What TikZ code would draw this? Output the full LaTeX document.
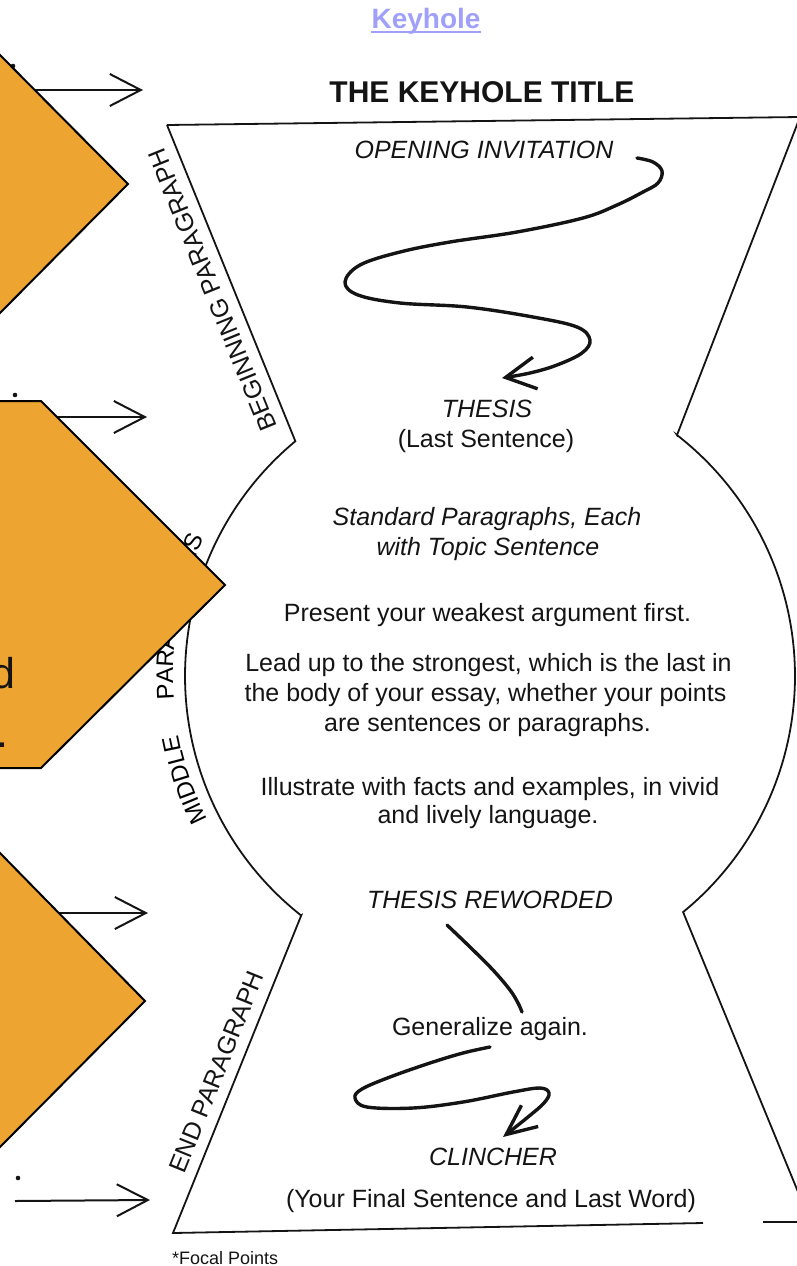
\documentclass[tikz,border=0pt]{standalone}
\usepackage{fontspec}
\setmainfont{Liberation Sans}
\usetikzlibrary{arrows.meta,decorations.text}
\definecolor{orangefill}{RGB}{238,164,48}
\definecolor{linkblue}{RGB}{160,160,250}
\definecolor{ink}{RGB}{20,20,20}
\begin{document}
\begin{tikzpicture}[x=1pt,y=-1pt,
  outline/.style={draw=ink, line width=1.8pt, line join=miter},
  body/.style={font=\fontsize{25}{30}\selectfont, inner sep=0pt, anchor=base, text=ink},
  ital/.style={body, font=\fontsize{25}{30}\selectfont\itshape},
  sidelabel/.style={font=\fontsize{25}{30}\selectfont, inner sep=0pt, anchor=base, text=ink},
  focalarrow/.style={draw=ink, line width=2pt, -{Straight Barb[length=31pt,width=32pt]}},
  swirl/.style={draw=ink, line width=3.4pt, line cap=round, line join=round},
  orangeshape/.style={fill=orangefill, draw=black, line width=2pt, line join=miter},
  bigtext/.style={font=\fontsize{43}{50}\selectfont, inner sep=0pt, anchor=base east, text=ink},
]
\useasboundingbox (0,0) rectangle (796,1266);

% header
\node[font=\fontsize{28}{32}\selectfont\bfseries, text=linkblue, inner sep=0pt, anchor=base] (link) at (426,28) {Keyhole};
\draw[linkblue, line width=2pt] ([yshift=-4pt]link.base west) -- ([yshift=-4pt]link.base east);
\node[font=\fontsize{30}{36}\selectfont\bfseries, text=ink, inner sep=0pt, anchor=base] (title) at (482,102) {THE KEYHOLE TITLE};

% keyhole outline
\draw[outline] (167,125) -- (800,117) -- (677,435.1)
  -- plot[domain=-52.19:50.72, samples=90] ({490+305*cos(\x)},{676+305*sin(\x)})
  -- (810.4,1222) -- (763,1222);
\draw[outline] (703,1223) -- (173,1233) -- (301.2,915.5)
  -- plot[domain=128.25:230.34, samples=90] ({490+305*cos(\x)},{676+305*sin(\x)})
  -- (167,125);

% side labels
\node[sidelabel, rotate=112.1] (begin) at (220.2,286.6) {BEGINNING PARAGRAPH};
\node[sidelabel, rotate=68] (endp) at (224.4,1075) {END PARAGRAPH};
\path[decorate, decoration={text along path, text={|\fontsize{24}{28}\selectfont|MIDDLE}, text align=left}]
  plot[domain=153:178, samples=50] ({490+317*cos(\x)},{676+317*sin(\x)});
\path[decorate, decoration={text along path, text={|\fontsize{24}{28}\selectfont|PARAGRAPHS}, text align=left}]
  plot[domain=175.7:214, samples=70] ({490+317*cos(\x)},{676+317*sin(\x)});

% inner texts
\node[ital] (open) at (484,158) {OPENING INVITATION};
\node[ital] (thesis) at (487,417) {THESIS};
\node[body] (lastsent) at (486,447) {(Last Sentence)};
\node[ital] (std1) at (487,525) {Standard Paragraphs, Each};
\node[ital] (std2) at (488,555) {with Topic Sentence};
\node[body] (present) at (487.5,621.7) {Present your weakest argument first.};
\node[body] (lead1) at (488.5,671.7) {Lead up to the strongest, which is the last in};
\node[body] (lead2) at (485.5,701.7) {the body of your essay, whether your points};
\node[body] (lead3) at (487.5,731.5) {are sentences or paragraphs.};
\node[body] (illus1) at (490,795) {Illustrate with facts and examples, in vivid};
\node[body] (illus2) at (488,823.3) {and lively language.};
\node[ital] (reworded) at (490,908) {THESIS REWORDED};
\node[body] (general) at (490,1035) {Generalize again.};
\node[ital] (clincher) at (493,1165) {CLINCHER};
\node[body] (final) at (491,1207) {(Your Final Sentence and Last Word)};
\node[font=\fontsize{18}{20}\selectfont, text=ink, inner sep=0pt, anchor=base west] (focalpts) at (172,1264) {*Focal Points};

% swirl connectors
\coordinate (s1) at (637,158);
\coordinate (e1) at (502,378);
\draw[swirl, -{Straight Barb[length=30pt,width=32pt]}] plot[smooth, tension=0.6] coordinates {(s1) (653,162) (662,171) (658,183) (643,192) (617,205) (583,218) (517,232) (450,242) (400,252) (360,265) (345,282) (358,295) (400,303) (467,307) (533,317) (577,327) (590,340) (582,353) (557,365) (530,373) (e1)};
\coordinate (s2) at (447,925);
\coordinate (e2) at (522,1012);
\draw[swirl] plot[smooth, tension=0.6] coordinates {(s2) (470,947) (493,970) (510,990) (518,1003) (e2)};
\coordinate (s3) at (490,1047);
\coordinate (e3) at (503,1137);
\draw[swirl, -{Straight Barb[length=30pt,width=27pt]}] plot[smooth, tension=0.6] coordinates {(s3) (463,1053) (430,1063) (390,1077) (362,1089) (355,1098) (367,1107) (413,1108) (463,1102) (513,1092) (540,1088) (549,1093) (544,1103) (528,1117) (e3)};

% focal point arrows and markers
\fill[ink] (13,66) circle[radius=2.3];
\fill[ink] (15,395) circle[radius=2.3];
\fill[ink] (18,1178) circle[radius=2.3];
\coordinate (a1s) at (0,90);   \coordinate (a1e) at (143,90);
\coordinate (a2s) at (0,417);  \coordinate (a2e) at (147,417);
\coordinate (a3s) at (0,913);  \coordinate (a3e) at (148,913);
\coordinate (a4s) at (15,1201); \coordinate (a4e) at (150,1200);
\draw[focalarrow] (a1s) -- (a1e);
\draw[focalarrow] (a2s) -- (a2e);
\draw[focalarrow] (a3s) -- (a3e);
\draw[focalarrow] (a4s) -- (a4e);

% orange overlay shapes
\draw[orangeshape] (-129,184) -- (0,55) -- (128,184) -- (0,313) -- cycle;
\draw[orangeshape] (-20,401) -- (41,401) -- (225,585) -- (41,768) -- (-20,768) -- cycle;
\draw[orangeshape] (-145,1001) -- (0,853) -- (145,1001) -- (0,1147) -- cycle;
\node[bigtext] (dchar) at (16,688) {d};
\node[bigtext] (dot) at (9,747) {.};
\end{tikzpicture}
\end{document}
